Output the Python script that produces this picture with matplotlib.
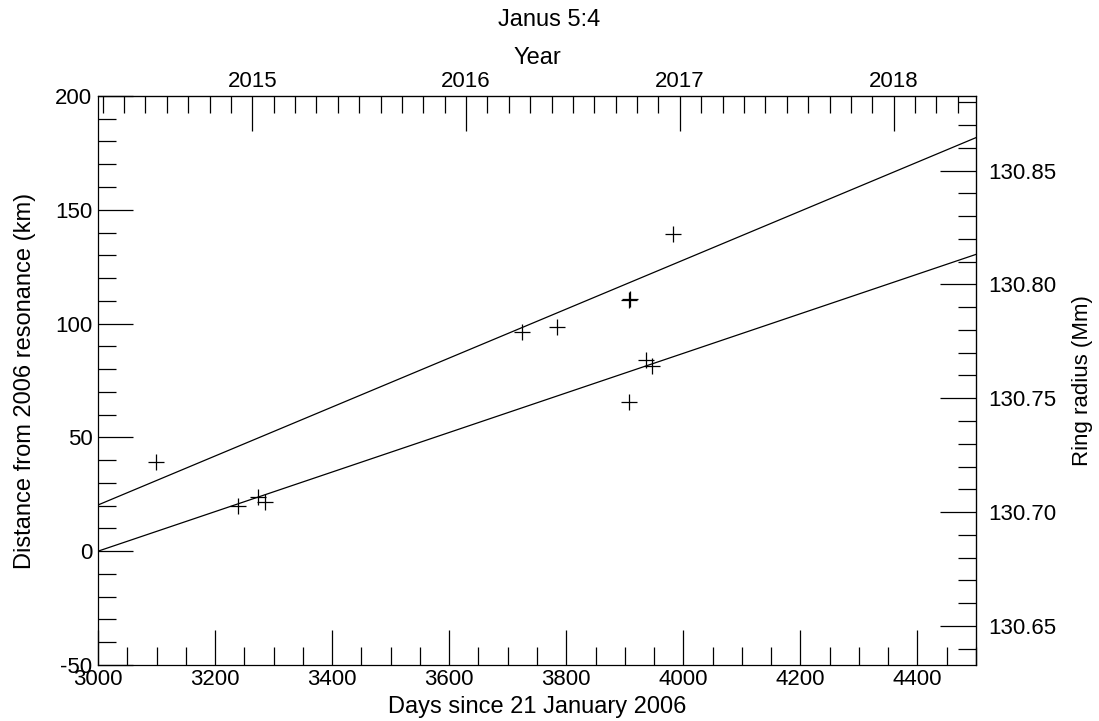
import matplotlib
matplotlib.use('Agg')
import matplotlib.pyplot as plt
from matplotlib.ticker import MultipleLocator, FormatStrFormatter
import numpy as np

# Measured radial positions of the Janus 5:4 resonance
days = [3099.1, 3239.7, 3272.8, 3285.3, 3724.9, 3783.7, 3907.7, 3908.5,
        3907.7, 3935.7, 3946.0, 3982.9]
distance_km = [39.3, 19.9, 23.7, 21.7, 96.3, 98.4, 110.4, 110.6,
               65.7, 84.0, 81.5, 139.2]

# Two linear drift fits
fit_days = [3000, 4500]
upper_fit = [20.3, 181.7]
lower_fit = [0.0, 130.4]

# Resonance radius in 2006 (Mm) and year origin for the top axis
r0_mm = 130.6828
year0 = 2006.065

plt.rcParams['font.family'] = ['Liberation Sans', 'DejaVu Sans']
plt.rcParams['font.size'] = 16
plt.rcParams['axes.unicode_minus'] = False

fig = plt.figure(figsize=(10.99, 7.21), dpi=100)
ax = fig.add_axes([0.0892, 0.0777, 0.7989, 0.7892])

ax.plot(fit_days, upper_fit, color='black', lw=0.9)
ax.plot(fit_days, lower_fit, color='black', lw=0.9)
ax.plot(days, distance_km, linestyle='none', marker='+', color='black',
        markersize=11, markeredgewidth=0.9)

ax.set_xlim(3000, 4500)
ax.set_ylim(-50, 200)
ax.xaxis.set_major_locator(MultipleLocator(200))
ax.xaxis.set_minor_locator(MultipleLocator(50))
ax.yaxis.set_major_locator(MultipleLocator(50))
ax.yaxis.set_minor_locator(MultipleLocator(10))
ax.tick_params(which='major', direction='in', length=25, width=0.9,
               top=False, right=False)
ax.tick_params(which='minor', direction='in', length=13, width=0.9,
               top=False, right=False)
ax.tick_params(axis='x', which='major', pad=3)
ax.tick_params(axis='y', which='major', pad=4)
ax.set_xlabel('Days since 21 January 2006', fontsize=17, labelpad=4)
ax.set_ylabel('Distance from 2006 resonance (km)', fontsize=17, labelpad=14)
for s in ax.spines.values():
    s.set_linewidth(0.9)

# Top axis: calendar year
top = ax.secondary_xaxis('top', functions=(lambda d: year0 + d / 365.25,
                                           lambda y: (y - year0) * 365.25))
top.xaxis.set_major_locator(MultipleLocator(1))
top.xaxis.set_minor_locator(MultipleLocator(0.1))
top.xaxis.set_major_formatter(FormatStrFormatter('%d'))
top.tick_params(which='major', direction='in', length=25, width=0.9, pad=3)
top.tick_params(which='minor', direction='in', length=12, width=0.9)
top.set_xlabel('Year', fontsize=17, labelpad=5)

# Right axis: ring radius
right = ax.secondary_yaxis('right', functions=(lambda d: r0_mm + d / 1000.0,
                                               lambda r: (r - r0_mm) * 1000.0))
right.yaxis.set_major_locator(MultipleLocator(0.05))
right.yaxis.set_minor_locator(MultipleLocator(0.01))
right.yaxis.set_major_formatter(FormatStrFormatter('%.2f'))
right.tick_params(which='major', direction='in', length=26, width=0.9, pad=9)
right.tick_params(which='minor', direction='in', length=13, width=0.9)
right.set_ylabel('Ring radius (Mm)', fontsize=16, labelpad=11)

fig.suptitle('Janus 5:4', y=0.988, fontsize=17)

plt.savefig('out.png', dpi=100)
plt.close('all')
